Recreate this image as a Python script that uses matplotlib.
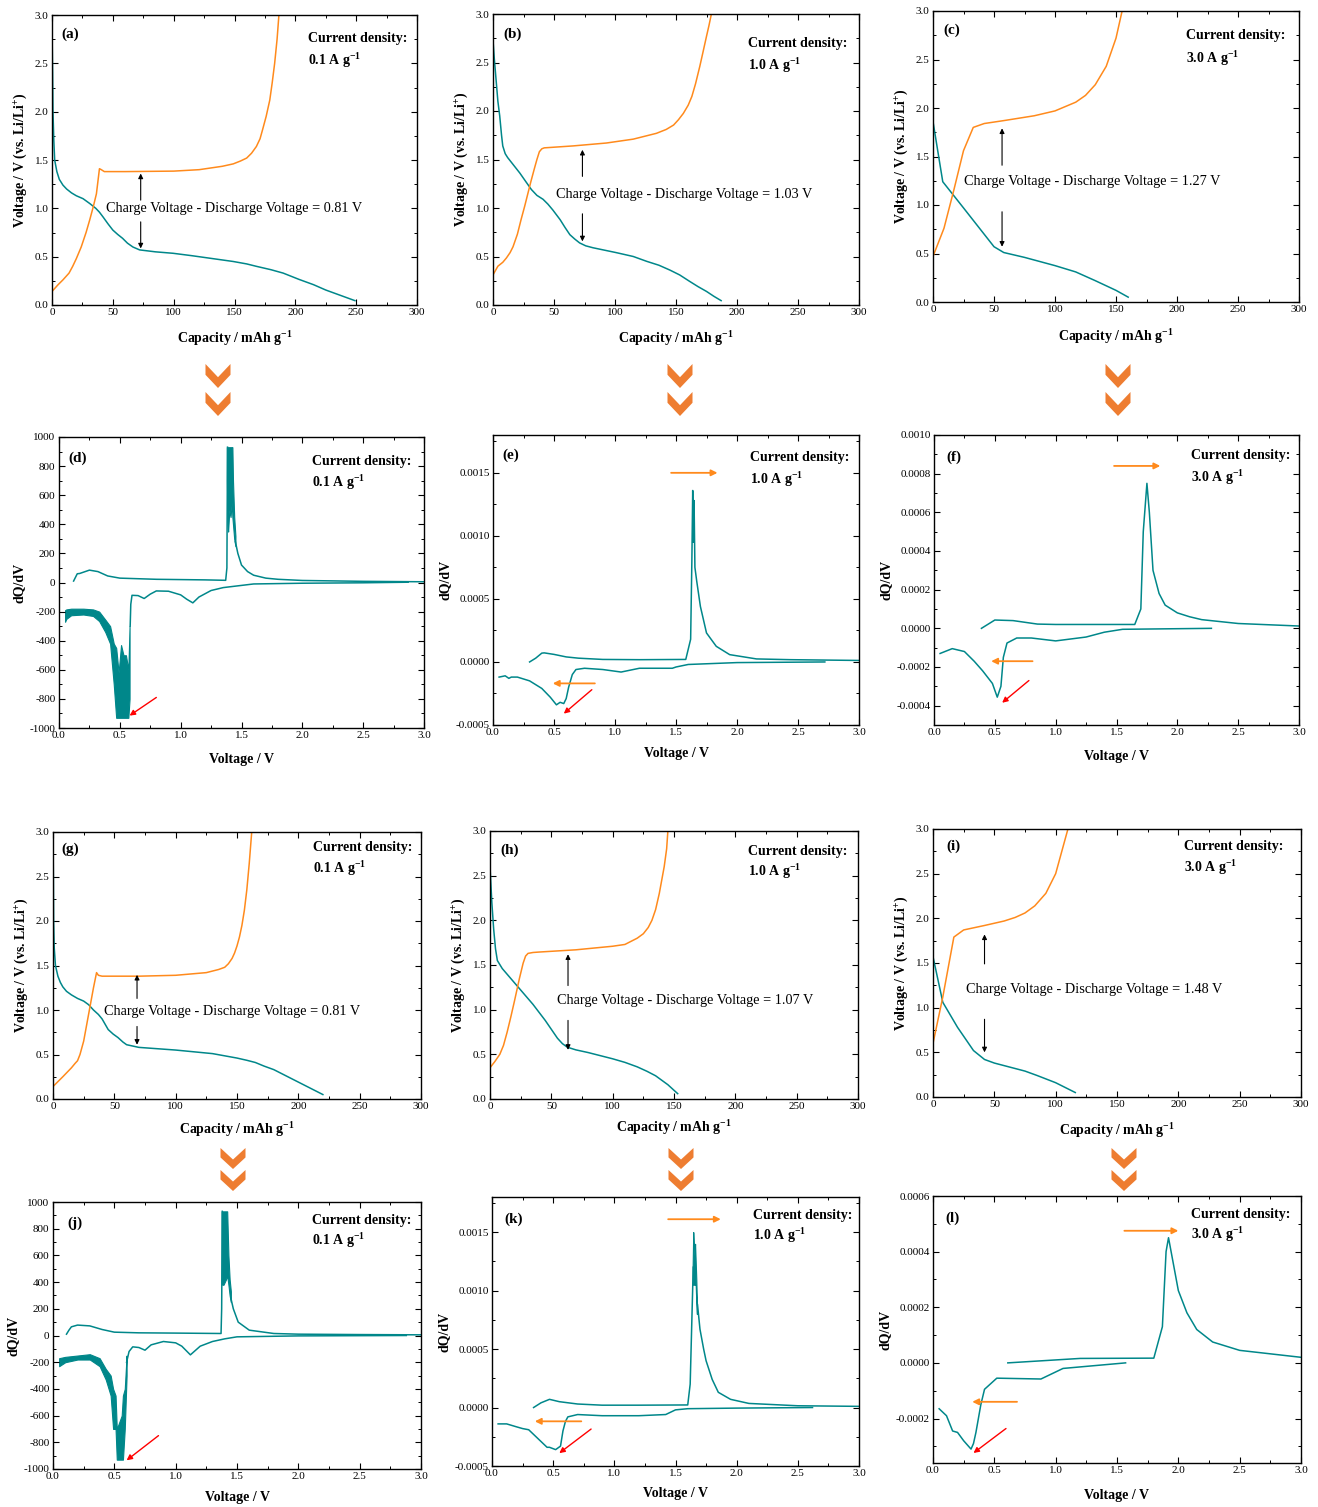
import matplotlib
matplotlib.use('Agg')
import matplotlib.pyplot as plt
from matplotlib.patches import Polygon
from matplotlib.ticker import MultipleLocator, FormatStrFormatter

plt.rcParams['font.family'] = ['Liberation Serif', 'DejaVu Serif']
plt.rcParams['mathtext.fontset'] = 'custom'
plt.rcParams['mathtext.rm'] = 'Liberation Serif'
plt.rcParams['mathtext.bf'] = 'Liberation Serif:bold'
plt.rcParams['mathtext.it'] = 'Liberation Serif:italic'
plt.rcParams['axes.unicode_minus'] = False

TEAL = '#00878A'
ORANGE = '#FF8A1C'
CHEV = '#EE7D31'

# ---------------- Voltage profiles (capacity mAh/g, voltage V) ----------------
a_dis_cap = [0, 0.5, 0.8, 1.5, 2.2, 4, 6, 9, 12, 16, 20, 25.5, 31, 36, 39, 42, 46, 50, 54, 58, 62, 66.5, 72, 85, 99.5, 115, 132, 149, 160, 168, 180, 190, 203, 215, 225, 237, 249]
a_dis_v = [2.87, 2.4, 2.0, 1.7, 1.5, 1.38, 1.30, 1.24, 1.20, 1.16, 1.13, 1.10, 1.05, 1.0, 0.96, 0.91, 0.84, 0.775, 0.73, 0.69, 0.64, 0.60, 0.57, 0.55, 0.535, 0.51, 0.48, 0.45, 0.425, 0.40, 0.365, 0.33, 0.265, 0.21, 0.155, 0.10, 0.045]
a_chg_cap = [0, 5, 9, 14, 17, 20, 24, 28, 31, 34, 36.5, 39, 40.5, 43, 60, 100, 121, 140, 149, 155, 160, 164, 168, 171, 173, 176, 179, 181, 183, 185, 186.5]
a_chg_v = [0.14, 0.21, 0.26, 0.33, 0.40, 0.48, 0.60, 0.75, 0.88, 1.02, 1.15, 1.41, 1.40, 1.38, 1.38, 1.385, 1.40, 1.435, 1.46, 1.49, 1.52, 1.57, 1.64, 1.72, 1.81, 1.95, 2.12, 2.30, 2.50, 2.75, 3.0]

b_dis_cap = [0, 1, 2, 3, 4, 5.5, 7, 8, 10, 12, 17, 22, 27, 31.5, 36, 41, 45, 49, 55, 59, 63, 67, 71, 76, 82, 101, 115, 126, 136, 145, 153, 161, 168, 175, 181, 187]
b_dis_v = [2.73, 2.55, 2.4, 2.25, 2.1, 1.95, 1.75, 1.64, 1.56, 1.52, 1.44, 1.36, 1.27, 1.19, 1.13, 1.09, 1.04, 0.98, 0.88, 0.80, 0.725, 0.68, 0.64, 0.61, 0.59, 0.54, 0.50, 0.45, 0.41, 0.36, 0.31, 0.245, 0.19, 0.14, 0.09, 0.045]
b_chg_cap = [0, 4, 8, 11, 14, 16.4, 20, 23, 26, 28.7, 31, 34, 36, 38, 40, 42, 65.6, 93, 115, 134, 142, 148, 152, 156, 160, 163, 166, 169.5, 172, 175, 177, 179]
b_chg_v = [0.31, 0.40, 0.44, 0.485, 0.54, 0.60, 0.73, 0.88, 1.02, 1.155, 1.27, 1.41, 1.50, 1.58, 1.61, 1.62, 1.64, 1.67, 1.71, 1.77, 1.81, 1.855, 1.91, 1.975, 2.06, 2.15, 2.28, 2.46, 2.6, 2.77, 2.88, 3.0]

c_dis_cap = [0, 8, 25, 50, 58, 75, 100, 117, 133, 150, 160]
c_dis_v = [1.86, 1.24, 0.97, 0.57, 0.51, 0.46, 0.375, 0.31, 0.22, 0.12, 0.05]
c_chg_cap = [0, 9, 17, 25, 33, 42, 58, 83, 100, 117, 125, 133, 142, 150, 155]
c_chg_v = [0.47, 0.76, 1.15, 1.56, 1.80, 1.84, 1.87, 1.92, 1.97, 2.06, 2.13, 2.24, 2.43, 2.72, 3.0]

g_dis_cap = [0, 0.3, 0.5, 1, 2, 4, 6, 8, 11, 15, 20, 25, 29, 33, 37, 40, 45, 49, 53, 57, 60, 65, 70, 100, 130, 150, 158, 165, 172, 180, 190, 200, 210, 220]
g_dis_v = [2.95, 2.5, 2.0, 1.7, 1.5, 1.38, 1.31, 1.26, 1.21, 1.17, 1.13, 1.10, 1.06, 1.0, 0.95, 0.9, 0.78, 0.73, 0.69, 0.64, 0.61, 0.595, 0.58, 0.55, 0.51, 0.46, 0.435, 0.41, 0.37, 0.33, 0.26, 0.19, 0.12, 0.05]
g_chg_cap = [0, 8, 15, 18, 20, 22, 25, 29, 33, 35.5, 37, 40, 70, 100, 125, 135, 140, 143, 146, 148, 150, 152, 154, 156, 158, 160, 162]
g_chg_v = [0.14, 0.25, 0.35, 0.40, 0.43, 0.50, 0.65, 0.95, 1.25, 1.42, 1.39, 1.38, 1.38, 1.39, 1.42, 1.455, 1.48, 1.52, 1.58, 1.64, 1.72, 1.82, 1.95, 2.12, 2.35, 2.65, 3.0]

h_dis_cap = [0, 1.5, 3, 4.5, 6, 10, 15, 20, 25, 30, 35, 40, 45, 50, 55, 59, 63, 70, 80, 90, 100, 110, 120, 128, 135, 140, 145, 149, 153]
h_dis_v = [2.6, 2.2, 1.9, 1.68, 1.55, 1.46, 1.38, 1.30, 1.22, 1.14, 1.06, 0.97, 0.88, 0.78, 0.68, 0.62, 0.58, 0.55, 0.52, 0.485, 0.45, 0.41, 0.36, 0.31, 0.26, 0.21, 0.16, 0.11, 0.06]
h_chg_cap = [0, 4, 8, 11, 14, 17, 20, 24, 27, 29, 31, 35, 40, 70, 100, 110, 120, 125, 129, 132, 135, 138, 140, 142, 144, 145]
h_chg_v = [0.35, 0.42, 0.5, 0.6, 0.75, 0.92, 1.1, 1.35, 1.52, 1.6, 1.63, 1.64, 1.645, 1.67, 1.71, 1.73, 1.8, 1.85, 1.92, 2.0, 2.12, 2.3, 2.45, 2.6, 2.8, 3.0]

i_dis_cap = [0, 8, 20, 33, 42, 50, 75, 85, 100, 116]
i_dis_v = [1.57, 1.06, 0.78, 0.52, 0.42, 0.38, 0.29, 0.24, 0.16, 0.05]
i_chg_cap = [0, 8, 17, 25, 42, 58, 67, 75, 83, 92, 100, 106, 110]
i_chg_v = [0.6, 1.12, 1.79, 1.87, 1.92, 1.97, 2.01, 2.06, 2.14, 2.28, 2.5, 2.8, 3.0]

# ---------------- dQ/dV (voltage V, dQ/dV) ----------------
d_chg_v = [0.12, 0.15, 0.17, 0.25, 0.32, 0.40, 0.50, 0.80, 1.20, 1.37, 1.38, 1.385]
d_chg_q = [10, 60, 62, 85, 75, 45, 30, 22, 18, 15, 100, 930]
d_spk_v = [1.38, 1.385, 1.39, 1.40, 1.41, 1.42, 1.425, 1.43, 1.44, 1.45]
d_spk_hi = [930, 930, 930, 930, 930, 930, 930, 700, 450, 320]
d_spk_lo = [700, 400, 350, 500, 450, 550, 450, 400, 300, 250]
d_tail_v = [1.45, 1.47, 1.50, 1.55, 1.60, 1.70, 1.80, 2.00, 2.50, 3.00]
d_tail_q = [280, 200, 120, 75, 50, 30, 22, 14, 8, 5]
d_dis_v = [2.87, 2.50, 2.00, 1.60, 1.45, 1.35, 1.25, 1.15, 1.10, 1.05, 1.00, 0.90, 0.80, 0.75, 0.70, 0.65, 0.60, 0.59, 0.585]
d_dis_q = [2, -2, -5, -10, -25, -35, -55, -100, -140, -115, -85, -60, -58, -80, -110, -90, -88, -150, -300]
d_band_v = [0.05, 0.06, 0.10, 0.20, 0.28, 0.33, 0.38, 0.42, 0.45, 0.47, 0.49, 0.51, 0.53, 0.55, 0.57, 0.58]
d_band_hi = [-190, -185, -180, -180, -185, -200, -255, -300, -420, -450, -620, -430, -500, -500, -600, -300]
d_band_lo = [-270, -250, -225, -220, -230, -265, -340, -420, -700, -930, -930, -930, -930, -930, -930, -800]

e_chg_v = [0.30, 0.35, 0.40, 0.42, 0.50, 0.60, 0.70, 0.90, 1.20, 1.58, 1.60, 1.62, 1.63, 1.637, 1.643, 1.648, 1.655, 1.67, 1.70, 1.75, 1.83, 1.94, 2.16, 2.44, 3.00]
e_chg_q = [0.0, 0.00003, 0.00007, 0.000072, 0.00006, 0.00004, 0.00003, 0.00002, 0.000018, 0.00002, 0.0001, 0.00018, 0.0008, 0.00136, 0.00095, 0.00128, 0.00075, 0.00064, 0.00044, 0.00023, 0.000124, 0.000058, 0.000024, 0.000018, 0.000012]
e_dis_v = [2.72, 2.00, 1.60, 1.50, 1.47, 1.20, 1.05, 0.90, 0.75, 0.68, 0.65, 0.62, 0.60, 0.58, 0.55, 0.52, 0.47, 0.40, 0.30, 0.20, 0.15, 0.13, 0.10, 0.05]
e_dis_q = [0.0, -0.000005, -0.00002, -0.00004, -0.00005, -0.00005, -0.00008, -0.00006, -0.00005, -0.00006, -0.0001, -0.0002, -0.00029, -0.00033, -0.00032, -0.00034, -0.00028, -0.00021, -0.00015, -0.00012, -0.00012, -0.00013, -0.00011, -0.00012]

f_chg_v = [0.39, 0.50, 0.65, 0.85, 1.00, 1.30, 1.65, 1.70, 1.72, 1.75, 1.77, 1.80, 1.85, 1.90, 2.00, 2.10, 2.20, 2.50, 3.00]
f_chg_q = [0.0, 0.000043, 0.00004, 0.000022, 0.00002, 0.00002, 0.00002, 0.0001, 0.0005, 0.00075, 0.0006, 0.0003, 0.00018, 0.00012, 0.00008, 0.00006, 0.000045, 0.000025, 0.000012]
f_dis_v = [2.28, 1.55, 1.40, 1.25, 1.00, 0.80, 0.68, 0.60, 0.57, 0.55, 0.52, 0.48, 0.40, 0.33, 0.25, 0.15, 0.05]
f_dis_q = [0.0, -0.000005, -0.00002, -0.000045, -0.000065, -0.00005, -0.00005, -0.000076, -0.00015, -0.0003, -0.000356, -0.000285, -0.00022, -0.00017, -0.00012, -0.000105, -0.00013]

j_chg_v = [0.11, 0.13, 0.15, 0.20, 0.30, 0.40, 0.50, 0.70, 1.00, 1.37, 1.375, 1.38]
j_chg_q = [10, 40, 65, 78, 72, 45, 25, 20, 18, 15, 200, 930]
j_spk_v = [1.375, 1.38, 1.39, 1.40, 1.41, 1.42, 1.43, 1.44, 1.45]
j_spk_hi = [930, 930, 930, 930, 930, 930, 600, 420, 330]
j_spk_lo = [400, 380, 380, 400, 420, 450, 380, 300, 250]
j_tail_v = [1.45, 1.47, 1.51, 1.60, 1.80, 2.00, 2.50, 3.00]
j_tail_q = [280, 200, 100, 40, 15, 10, 7, 5]
j_dis_v = [2.88, 2.00, 1.50, 1.40, 1.30, 1.20, 1.12, 1.05, 1.00, 0.90, 0.80, 0.75, 0.70, 0.65, 0.62, 0.60]
j_dis_q = [0, -3, -10, -25, -45, -80, -145, -80, -55, -45, -70, -110, -90, -85, -120, -200]
j_band_v = [0.05, 0.10, 0.20, 0.30, 0.38, 0.43, 0.47, 0.49, 0.51, 0.52, 0.56, 0.57, 0.585, 0.60]
j_band_hi = [-170, -160, -150, -140, -170, -250, -300, -400, -450, -700, -600, -450, -400, -150]
j_band_lo = [-230, -200, -180, -180, -230, -330, -450, -700, -700, -930, -930, -930, -700, -300]

k_chg_v = [0.34, 0.40, 0.47, 0.55, 0.70, 0.90, 1.20, 1.60, 1.62, 1.635, 1.645]
k_chg_q = [0.0, 0.00004, 0.00007, 0.00005, 0.00003, 0.00002, 0.00002, 0.000022, 0.0002, 0.0008, 0.0012]
k_spk_v = [1.64, 1.645, 1.65, 1.655, 1.66, 1.665, 1.67, 1.675]
k_spk_hi = [0.0012, 0.0015, 0.0014, 0.0013, 0.0014, 0.00125, 0.0011, 0.0009]
k_spk_lo = [0.00105, 0.00105, 0.00105, 0.00105, 0.00105, 0.00105, 0.0009, 0.0008]
k_tail_v = [1.675, 1.68, 1.70, 1.73, 1.75, 1.80, 1.85, 1.95, 2.10, 2.50, 3.00]
k_tail_q = [0.0009, 0.00088, 0.00067, 0.0005, 0.0004, 0.00024, 0.00013, 0.00007, 0.000035, 0.000015, 0.00001]
k_dis_v = [2.62, 2.00, 1.60, 1.50, 1.42, 1.20, 0.90, 0.70, 0.62, 0.60, 0.58, 0.56, 0.52, 0.47, 0.45, 0.40, 0.33, 0.30, 0.25, 0.20, 0.12, 0.05]
k_dis_q = [0.0, -0.000005, -0.00001, -0.00002, -0.00006, -0.00007, -0.00007, -0.00006, -0.00008, -0.00012, -0.0002, -0.00033, -0.00036, -0.00034, -0.00034, -0.00029, -0.00022, -0.00019, -0.00018, -0.000165, -0.00014, -0.00014]

l_chg_v = [0.61, 1.20, 1.80, 1.87, 1.90, 1.92, 2.00, 2.07, 2.15, 2.28, 2.50, 3.00]
l_chg_q = [0.0, 0.000016, 0.000017, 0.00013, 0.0004, 0.00045, 0.00026, 0.00018, 0.00012, 0.000075, 0.000045, 0.00002]
l_dis_v = [1.57, 1.06, 0.88, 0.52, 0.42, 0.39, 0.35, 0.33, 0.31, 0.25, 0.20, 0.16, 0.11, 0.05]
l_dis_q = [0.0, -0.00002, -0.000058, -0.000055, -0.000095, -0.00015, -0.00025, -0.00029, -0.00031, -0.00028, -0.00025, -0.000245, -0.00019, -0.000165]

W, H = 1318, 1507
fig = plt.figure(figsize=(W / 100, H / 100), dpi=100)


def add_ax(box):
    l, t, r, b = box
    return fig.add_axes([l / W, 1 - b / H, (r - l) / W, (b - t) / H])


def style(ax):
    ax.tick_params(which='both', direction='in', top=True, right=True, labelsize=8, pad=2.5)
    ax.tick_params(which='major', length=4, width=0.8)
    ax.tick_params(which='minor', length=2.5, width=0.7)
    for s in ax.spines.values():
        s.set_linewidth(1.0)


TXT = dict(fontsize=10, fontweight='bold')


def headers(ax, lab, lab_xy, cd, cd_xy, cd2_dy):
    ax.text(lab_xy[0], lab_xy[1], lab, transform=ax.transAxes, ha='left', va='center', fontsize=11, fontweight='bold')
    ax.text(cd_xy[0], cd_xy[1], 'Current density:', transform=ax.transAxes, ha='left', va='center', **TXT)
    ax.text(cd_xy[0], cd_xy[1] - cd2_dy, cd + r' A g$^{\mathbf{-1}}$', transform=ax.transAxes, ha='left', va='center', **TXT)


def volt_panel(box, dc, dv, cc, cv, lab, lab_xy, cd, cd_xy, cd2_dy, gap, txt_xy, arr_x, up, down, xpad):
    ax = add_ax(box)
    ax.plot(dc, dv, color=TEAL, lw=1.1)
    ax.plot(cc, cv, color=ORANGE, lw=1.1)
    ax.set_xlim(0, 300)
    ax.set_ylim(0, 3)
    ax.xaxis.set_major_locator(MultipleLocator(50))
    ax.xaxis.set_minor_locator(MultipleLocator(25))
    ax.yaxis.set_major_locator(MultipleLocator(0.5))
    ax.yaxis.set_minor_locator(MultipleLocator(0.25))
    ax.yaxis.set_major_formatter(FormatStrFormatter('%.1f'))
    style(ax)
    ax.set_xlabel(r'Capacity / mAh g$^{\mathbf{-1}}$', fontsize=10, fontweight='bold', labelpad=xpad)
    ax.set_ylabel(r'Voltage / V (vs. Li/Li$^{\mathbf{+}}$)', fontsize=10, fontweight='bold', labelpad=4)
    headers(ax, lab, lab_xy, cd, cd_xy, cd2_dy)
    ax.text(txt_xy[0], txt_xy[1], 'Charge Voltage - Discharge Voltage = ' + gap + ' V', ha='left', va='center', fontsize=10.3)
    ap = dict(arrowstyle='-|>', color='black', lw=0.8, mutation_scale=7, shrinkA=0, shrinkB=0)
    ax.annotate('', xy=(arr_x, up[1]), xytext=(arr_x, up[0]), arrowprops=ap)
    ax.annotate('', xy=(arr_x, down[1]), xytext=(arr_x, down[0]), arrowprops=ap)
    return ax


def dq_panel(box, lines, bands, ylim, major, minor, fmt, lab, lab_xy, cd, cd_xy, cd2_dy, oarrows, rarrow, xpad):
    ax = add_ax(box)
    for xv, yv in lines:
        ax.plot(xv, yv, color=TEAL, lw=1.1)
    for xv, lo, hi in bands:
        ax.fill_between(xv, lo, hi, color=TEAL, lw=0.8, edgecolor=TEAL)
    ax.set_xlim(0, 3)
    ax.set_ylim(*ylim)
    ax.xaxis.set_major_locator(MultipleLocator(0.5))
    ax.xaxis.set_minor_locator(MultipleLocator(0.25))
    ax.xaxis.set_major_formatter(FormatStrFormatter('%.1f'))
    ax.yaxis.set_major_locator(MultipleLocator(major))
    ax.yaxis.set_minor_locator(MultipleLocator(minor))
    ax.yaxis.set_major_formatter(FormatStrFormatter(fmt))
    style(ax)
    ax.set_xlabel('Voltage / V', fontsize=10, fontweight='bold', labelpad=xpad)
    ax.set_ylabel('dQ/dV', fontsize=10, fontweight='bold', labelpad=3)
    headers(ax, lab, lab_xy, cd, cd_xy, cd2_dy)
    for (x0, x1, y) in oarrows:
        ax.annotate('', xy=(x1, y), xytext=(x0, y),
                    arrowprops=dict(arrowstyle='-|>', color=ORANGE, lw=1.3, mutation_scale=9, shrinkA=0, shrinkB=0))
    (rx0, ry0), (rx1, ry1) = rarrow
    ax.annotate('', xy=(rx1, ry1), xytext=(rx0, ry0),
                arrowprops=dict(arrowstyle='-|>', color='red', lw=1.0, mutation_scale=8, shrinkA=0, shrinkB=0))
    return ax


# Row 1
volt_panel((52, 15, 417, 305), a_dis_cap, a_dis_v, a_chg_cap, a_chg_v, '(a)', (0.025, 0.932),
           '0.1', (0.70, 0.918), 0.074, '0.81', (44.7, 1.0), 72.9, (1.085, 1.36), (0.86, 0.585), 8.5)
volt_panel((493, 14, 859, 305), b_dis_cap, b_dis_v, b_chg_cap, b_chg_v, '(b)', (0.027, 0.929),
           '1.0', (0.697, 0.898), 0.074, '1.03', (52, 1.137), 73.3, (1.326, 1.60), (0.94, 0.656), 8.5)
volt_panel((933, 11, 1299, 302), c_dis_cap, c_dis_v, c_chg_cap, c_chg_v, '(c)', (0.029, 0.933),
           '3.0', (0.692, 0.915), 0.077, '1.27', (25.1, 1.24), 56.6, (1.41, 1.79), (0.93, 0.57), 9)

# Row 2
dq_panel((59, 437, 424, 728), [(d_chg_v, d_chg_q), (d_tail_v, d_tail_q), (d_dis_v, d_dis_q)],
         [(d_spk_v, d_spk_lo, d_spk_hi), (d_band_v, d_band_lo, d_band_hi)],
         (-1000, 1000), 200, 100, '%d', '(d)', (0.025, 0.928), '0.1', (0.694, 0.916), 0.074,
         [], ((0.80, -790), (0.58, -915)), 9)
dq_panel((493, 435, 859, 725), [(e_chg_v, e_chg_q), (e_dis_v, e_dis_q)], [],
         (-0.0005, 0.0018), 0.0005, 0.00025, '%.4f', '(e)', (0.026, 0.93), '1.0', (0.703, 0.922), 0.076,
         [(1.46, 1.84, 0.0015), (0.835, 0.49, -0.00017)], ((0.81, -0.00022), (0.58, -0.00041)), 7)
dq_panel((934, 435, 1299, 725), [(f_chg_v, f_chg_q), (f_dis_v, f_dis_q)], [],
         (-0.0005, 0.001), 0.0002, 0.0001, '%.4f', '(f)', (0.034, 0.924), '3.0', (0.704, 0.93), 0.077,
         [(1.48, 1.86, 0.00084), (0.81, 0.47, -0.00017)], ((0.78, -0.00027), (0.56, -0.000385)), 9)

# Row 3
volt_panel((53, 832, 421, 1099), g_dis_cap, g_dis_v, g_chg_cap, g_chg_v, '(g)', (0.023, 0.935),
           '0.1', (0.707, 0.943), 0.079, '0.81', (41.3, 0.98), 68.5, (1.13, 1.395), (0.815, 0.61), 6)
volt_panel((490, 831, 858, 1099), h_dis_cap, h_dis_v, h_chg_cap, h_chg_v, '(h)', (0.027, 0.93),
           '1.0', (0.70, 0.925), 0.075, '1.07', (54.6, 1.10), 63.6, (1.27, 1.62), (0.88, 0.55), 5)
volt_panel((933, 829, 1301, 1097), i_dis_cap, i_dis_v, i_chg_cap, i_chg_v, '(i)', (0.035, 0.936),
           '3.0', (0.683, 0.936), 0.079, '1.48', (27, 1.2), 42, (1.49, 1.82), (0.87, 0.5), 8.5)

# Row 4
dq_panel((53, 1202, 421, 1469), [(j_chg_v, j_chg_q), (j_tail_v, j_tail_q), (j_dis_v, j_dis_q)],
         [(j_spk_v, j_spk_lo, j_spk_hi), (j_band_v, j_band_lo, j_band_hi)],
         (-1000, 1000), 200, 100, '%d', '(j)', (0.04, 0.92), '0.1', (0.705, 0.93), 0.075,
         [], ((0.86, -750), (0.60, -935)), 6.5)
dq_panel((492, 1197, 859, 1466), [(k_chg_v, k_chg_q), (k_tail_v, k_tail_q), (k_dis_v, k_dis_q)],
         [(k_spk_v, k_spk_lo, k_spk_hi)],
         (-0.0005, 0.0018), 0.0005, 0.00025, '%.4f', '(k)', (0.035, 0.916), '1.0', (0.712, 0.932), 0.076,
         [(1.44, 1.87, 0.00161), (0.73, 0.35, -0.000118)], ((0.81, -0.000184), (0.55, -0.00039)), 6.5)
dq_panel((933, 1196, 1301, 1463), [(l_chg_v, l_chg_q), (l_dis_v, l_dis_q)], [],
         (-0.00036, 0.0006), 0.0002, 0.0001, '%.4f', '(l)', (0.034, 0.915), '3.0', (0.70, 0.932), 0.075,
         [(1.56, 2.0, 0.000475), (0.685, 0.32, -0.00014)], ((0.595, -0.000236), (0.33, -0.000324)), 10)


# chevron arrows between rows
def chevron(cx, top, w, h):
    pts = [(cx - w / 2, top), (cx, top + h * 0.55), (cx + w / 2, top), (cx + w / 2, top + h * 0.45),
           (cx, top + h), (cx - w / 2, top + h * 0.45)]
    pts = [(x / W, 1 - y / H) for x, y in pts]
    fig.patches.append(Polygon(pts, closed=True, transform=fig.transFigure, facecolor=CHEV, edgecolor='none'))


for cx in (218, 680, 1118):
    chevron(cx, 364, 25, 24)
    chevron(cx, 392, 25, 24)
for cx in (233, 681, 1124):
    chevron(cx, 1148, 25, 21)
    chevron(cx, 1170, 25, 21)

fig.savefig('out.png', dpi=100)
